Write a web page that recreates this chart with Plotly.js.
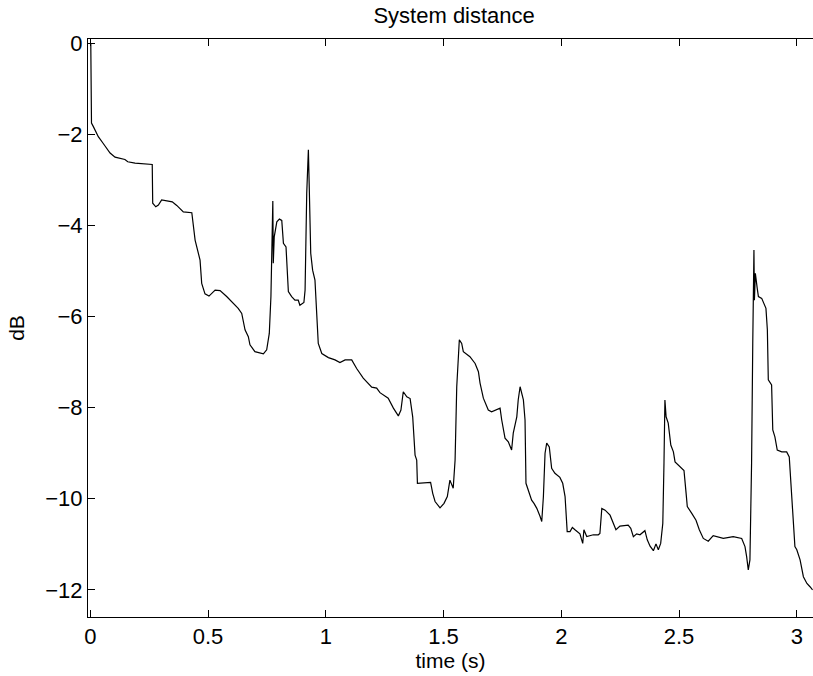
<!DOCTYPE html>
<html>
<head>
<meta charset="utf-8">
<script src="https://cdn.plot.ly/plotly-3.0.1.min.js"></script>
<style>
html,body{margin:0;padding:0;overflow:hidden;background:#fff;}
#chart{width:813px;height:676px;}
</style>
</head>
<body>
<div id="chart"></div>
<script>
// time (s)
var timeS = [0.002,0.005,0.013,0.034,0.055,0.084,0.105,0.147,0.159,0.190,0.263,0.265,0.278,0.289,0.303,0.348,0.367,0.395,0.431,0.445,
0.466,0.473,0.487,0.504,0.530,0.551,0.579,0.600,0.628,0.643,0.657,0.671,0.678,0.699,0.735,0.749,0.760,0.767,0.770,0.775,
0.777,0.781,0.792,0.803,0.813,0.820,0.831,0.841,0.855,0.869,0.883,0.890,0.907,0.912,0.919,0.926,0.930,0.936,0.944,0.954,
0.968,0.983,1.011,1.039,1.060,1.082,1.110,1.131,1.159,1.195,1.216,1.230,1.265,1.287,1.308,1.319,1.329,1.344,1.358,1.369,
1.379,1.386,1.389,1.414,1.445,1.454,1.464,1.485,1.502,1.516,1.527,1.541,1.549,1.556,1.563,1.567,1.577,1.584,1.612,1.634,
1.648,1.655,1.669,1.690,1.704,1.726,1.740,1.747,1.761,1.775,1.789,1.796,1.811,1.817,1.825,1.839,1.846,1.850,1.860,1.874,
1.884,1.896,1.910,1.917,1.924,1.931,1.938,1.949,1.959,1.973,1.994,2.006,2.016,2.025,2.037,2.047,2.058,2.079,2.091,2.096,
2.108,2.136,2.157,2.164,2.172,2.186,2.207,2.221,2.232,2.249,2.284,2.295,2.306,2.320,2.334,2.355,2.365,2.377,2.391,2.402,
2.412,2.422,2.431,2.436,2.440,2.445,2.454,2.465,2.476,2.483,2.504,2.521,2.530,2.535,2.554,2.572,2.586,2.603,2.624,2.645,
2.688,2.730,2.766,2.780,2.787,2.794,2.801,2.808,2.813,2.815,2.818,2.820,2.824,2.832,2.837,2.851,2.869,2.875,2.879,2.893,
2.898,2.907,2.917,2.936,2.957,2.968,2.978,2.988,2.992,3.000,3.014,3.028,3.043,3.056,3.067];
// system distance (dB)
var distDB = [0.0,-1.75,-1.83,-2.05,-2.2,-2.41,-2.5,-2.55,-2.6,-2.63,-2.66,-3.51,-3.59,-3.55,-3.44,-3.48,-3.56,-3.7,-3.72,-4.32,
-4.76,-5.27,-5.5,-5.55,-5.42,-5.43,-5.56,-5.67,-5.82,-5.93,-6.29,-6.44,-6.62,-6.77,-6.82,-6.73,-6.37,-5.56,-4.98,-3.46,
-4.83,-4.25,-3.92,-3.86,-3.89,-4.39,-4.47,-5.45,-5.56,-5.64,-5.64,-5.75,-5.69,-5.42,-3.29,-2.34,-3.22,-4.61,-4.98,-5.2,
-6.59,-6.81,-6.9,-6.95,-7.01,-6.95,-6.95,-7.14,-7.35,-7.55,-7.57,-7.67,-7.79,-8.01,-8.18,-8.05,-7.65,-7.76,-7.8,-8.2,
-9.04,-9.15,-9.66,-9.65,-9.64,-9.88,-10.06,-10.2,-10.1,-9.95,-9.59,-9.77,-9.15,-7.54,-6.66,-6.51,-6.59,-6.77,-6.88,-7.03,
-7.21,-7.46,-7.79,-8.05,-8.09,-8.05,-8.01,-8.27,-8.67,-8.75,-8.93,-8.56,-8.2,-7.83,-7.54,-7.83,-8.27,-9.66,-9.81,-10.03,
-10.1,-10.21,-10.39,-10.5,-9.95,-9.0,-8.78,-8.86,-9.33,-9.44,-9.53,-9.66,-9.95,-10.72,-10.72,-10.63,-10.68,-10.77,-10.98,-10.68,
-10.83,-10.79,-10.79,-10.76,-10.21,-10.25,-10.36,-10.54,-10.68,-10.6,-10.58,-10.65,-10.83,-10.77,-10.79,-10.7,-10.9,-11.04,-11.14,-10.99,
-11.12,-10.98,-10.54,-9.22,-7.83,-8.2,-8.34,-8.82,-8.97,-9.19,-9.3,-9.38,-9.88,-10.17,-10.32,-10.47,-10.68,-10.87,-10.93,-10.81,
-10.87,-10.83,-10.87,-11.05,-11.27,-11.56,-11.34,-9.22,-6.59,-5.2,-4.54,-5.64,-5.05,-5.38,-5.56,-5.6,-5.82,-6.29,-7.39,-7.5,
-8.49,-8.64,-8.93,-8.97,-8.97,-9.08,-9.88,-10.54,-11.05,-11.12,-11.34,-11.71,-11.86,-11.93,-12.0];

var xTickVals = [0, 0.5, 1, 1.5, 2, 2.5, 3];
var xTickText = ["0", "0.5", "1", "1.5", "2", "2.5", "3"];
var yTickVals = [0, -2, -4, -6, -8, -10, -12];
var yTickText = ["0", "\u22122", "\u22124", "\u22126", "\u22128", "\u221210", "\u221212"];

var fontFam = "'Liberation Sans', Arial, Helvetica, sans-serif";

var trace = {
  x: timeS, y: distDB, type: 'scatter', mode: 'lines',
  line: {color: '#000', width: 1.2}, hoverinfo: 'skip'
};

var layout = {
  width: 813, height: 676,
  margin: {l: 88, r: 0, t: 39, b: 59, pad: 0},
  paper_bgcolor: '#fff', plot_bgcolor: '#fff',
  showlegend: false,
  title: {text: 'System distance', font: {family: fontFam, size: 22, color: '#000'},
          x: 0.505, xref: 'paper', y: 1, yref: 'container', yanchor: 'top', pad: {t: 8}},
  xaxis: {
    showgrid: false, zeroline: false, showline: true, linecolor: '#000', linewidth: 1,
    ticks: 'inside', ticklen: 7, tickwidth: 1, tickcolor: '#000', mirror: 'ticks',
    tickfont: {family: fontFam, size: 22, color: '#000'}, tickmode: 'array',
    range: [-0.0098, 3.0688], tickvals: xTickVals, ticktext: xTickText,
    title: {text: 'time (s)', font: {family: fontFam, size: 21, color: '#000'}, standoff: 4}
  },
  yaxis: {
    showgrid: false, zeroline: false, showline: true, linecolor: '#000', linewidth: 1,
    ticks: 'inside', ticklen: 7, tickwidth: 1, tickcolor: '#000', mirror: false,
    tickfont: {family: fontFam, size: 22, color: '#000'}, tickmode: 'array',
    range: [-12.595, 0.094], tickvals: yTickVals, ticktext: yTickText,
    title: {text: 'dB', font: {family: fontFam, size: 21, color: '#000'}, standoff: 14}
  }
};

Plotly.newPlot('chart', [trace], layout, {staticPlot: true, displayModeBar: false});
</script>
</body>
</html>
